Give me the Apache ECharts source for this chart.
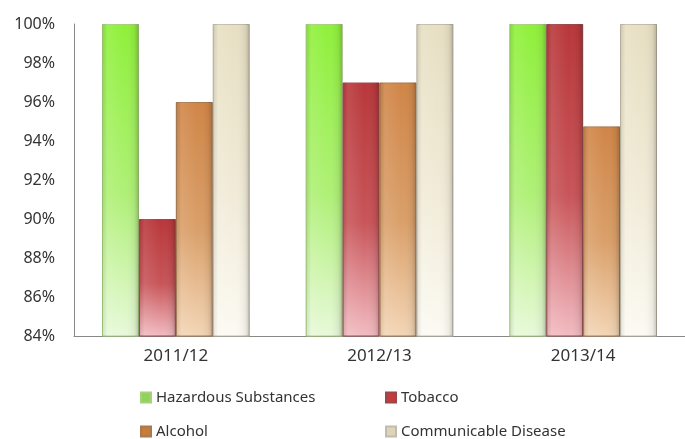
<!DOCTYPE html>
<html>
<head>
<meta charset="utf-8">
<script src="https://cdn.jsdelivr.net/npm/echarts@6/dist/echarts.min.js"></script>
<style>
  html, body { margin: 0; padding: 0; background: #fff; }
  #chart { width: 685px; height: 439px; }
</style>
</head>
<body>
<div id="chart"></div>
<script>
const categories = ['2011/12', '2012/13', '2013/14']
const hazardous = [100, 100, 100]
const tobacco = [90, 97, 100]
const alcohol = [96, 97, 94.75]
const communicable = [100, 100, 100]

const font = 'Noto Sans'

// vertical fade: strong colour on top, pale at the base
const grad = (top, mid, bottom) => new echarts.graphic.LinearGradient(0, 0, 0, 1, [
  { offset: 0, color: top },
  { offset: 0.55, color: mid },
  { offset: 1, color: bottom },
])
// side shading laid over each bar for the rounded look
const shade = new echarts.graphic.LinearGradient(0, 0, 1, 0, [
  { offset: 0, color: 'rgba(0,0,0,0.10)' },
  { offset: 0.15, color: 'rgba(255,255,255,0.10)' },
  { offset: 0.6, color: 'rgba(255,255,255,0)' },
  { offset: 0.88, color: 'rgba(0,0,0,0.06)' },
  { offset: 1, color: 'rgba(0,0,0,0.22)' },
])

const seriesDefs = [
  { name: 'Hazardous Substances', data: hazardous, fill: grad('#8ff03a', '#b0f078', '#e8f9da'), border: '#a5d27a', icon: '#8fd35a' },
  { name: 'Tobacco', data: tobacco, fill: grad('#b8373a', '#c85559', '#f2bcc2'), border: '#99484a', icon: '#c23c3e' },
  { name: 'Alcohol', data: alcohol, fill: grad('#d08547', '#daa06a', '#f3d6b6'), border: '#a8794f', icon: '#c47d3c' },
  { name: 'Communicable Disease', data: communicable, fill: grad('#e7dfc2', '#f1ebd8', '#fcfaf2'), border: '#c2bca9', icon: '#dcd4bc' },
]

const legendItem = (i, left, top) => ({
  left, top,
  itemWidth: 10, itemHeight: 10,
  textStyle: { fontFamily: font, fontSize: 15, color: '#333' },
  data: [{ name: seriesDefs[i].name, icon: 'rect', itemStyle: { color: seriesDefs[i].icon } }],
})

const barLayout = { barGap: '0%', barCategoryGap: '27.5%' }

const chart = echarts.init(document.getElementById('chart'))
chart.setOption({
  animation: false,
  backgroundColor: '#fff',
  grid: { left: 74, right: 0, top: 24, bottom: 103 },
  legend: [
    legendItem(0, 135, 385),
    legendItem(1, 380, 385),
    legendItem(2, 135, 419),
    legendItem(3, 380, 419),
  ],
  xAxis: [
    {
      type: 'category',
      data: categories,
      axisLine: { lineStyle: { color: '#888', width: 1 } },
      axisTick: { show: false },
      axisLabel: { fontFamily: font, fontSize: 17, color: '#333', margin: 12 },
    },
    { type: 'category', data: categories, show: false },
  ],
  yAxis: {
    type: 'value',
    min: 84, max: 100, interval: 2,
    axisLine: { show: true, lineStyle: { color: '#888' } },
    axisTick: { show: false },
    splitLine: { show: false },
    axisLabel: { fontFamily: font, fontSize: 16, color: '#333', margin: 19, formatter: '{value}%' },
  },
  series: [
    ...seriesDefs.map(s => ({
      name: s.name,
      type: 'bar',
      data: s.data,
      ...barLayout,
      itemStyle: { color: s.fill, borderColor: s.border, borderWidth: 1 },
    })),
    ...seriesDefs.map(s => ({
      name: s.name + ' shade',
      type: 'bar',
      xAxisIndex: 1,
      data: s.data,
      ...barLayout,
      silent: true,
      itemStyle: { color: shade },
    })),
  ],
})
</script>
</body>
</html>
